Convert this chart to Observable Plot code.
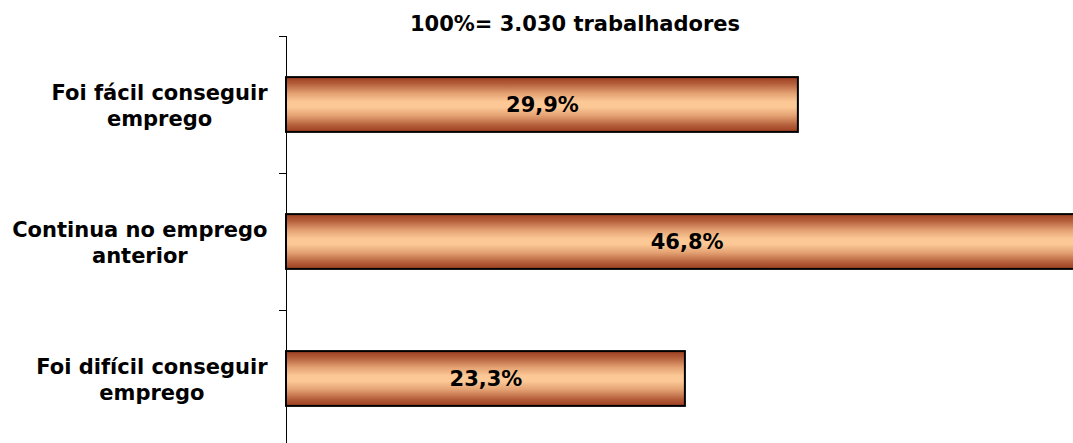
<!DOCTYPE html>
<html><head><meta charset="utf-8">
<script src="https://cdn.jsdelivr.net/npm/d3@7"></script>
<script src="https://cdn.jsdelivr.net/npm/@observablehq/plot@0.6"></script>
<style>
body{margin:0;background:#fff;overflow:hidden;}
#wrap{position:relative;width:1073px;height:443px;}
#title{position:absolute;top:14px;left:0;width:1073px;padding-left:77px;box-sizing:border-box;text-align:center;font:bold 21px "DejaVu Sans",Verdana,sans-serif;line-height:21px;color:#000;}
</style></head><body>
<div id="wrap"></div>
<script>
// ---- data ----
const categories = ["Foi fácil conseguir\nemprego", "Continua no emprego\nanterior", "Foi difícil conseguir\nemprego"];
const values = [29.9, 46.8, 23.3];
const valueLabels = ["29,9%", "46,8%", "23,3%"];
const boundaryTicks = [0, 1, 2, 3];
const titleText = "100%= 3.030 trabalhadores";

const FONT = "DejaVu Sans, Verdana, sans-serif";
const FS = 21;
const rows = categories.map((c, i) => ({i, cat: c, v: values[i], lab: valueLabels[i]}));

// measure label lines to center them under a right-aligned block
const ctx = document.createElement("canvas").getContext("2d");
ctx.font = `bold ${FS}px "DejaVu Sans"`;
const gap = 19;

const labelMarks = rows.map(r => {
  const w = d3.max(r.cat.split("\n"), s => ctx.measureText(s).width);
  return Plot.text([r], {
    x: () => 0, y: d => d.i + 0.5, text: d => d.cat,
    textAnchor: "middle", dx: -(gap + w / 2),
    fontSize: FS, fontWeight: "bold", fontFamily: FONT, fill: "#000", lineHeight: 1.24
  });
});

const chart = Plot.plot({
  width: 1073, height: 443,
  marginLeft: 286, marginRight: -69, marginTop: 36, marginBottom: -4,
  style: {overflow: "hidden", background: "#fff", fontFamily: FONT},
  x: {domain: [0, 50], axis: null},
  y: {type: "linear", domain: [0, 3], reverse: true, ticks: boundaryTicks, tickFormat: () => "", tickSize: 7, line: true, label: null},
  marks: [
    Plot.rect(rows, {x1: () => 0, x2: d => d.v, y1: d => d.i + 0.3, y2: d => d.i + 0.7, fill: "url(#barGrad)", stroke: "#000", strokeWidth: 2}),
    Plot.text(rows, {x: d => d.v / 2, y: d => d.i + 0.5, text: d => d.lab, fontSize: FS, fontWeight: "bold", fontFamily: FONT, fill: "#000"}),
    ...labelMarks
  ]
});

const defs = d3.select(chart).insert("defs", ":first-child");
const g = defs.append("linearGradient").attr("id", "barGrad").attr("x1", 0).attr("y1", 0).attr("x2", 0).attr("y2", 1);
[[0, "#9c3d20"], [0.12, "#b45e3a"], [0.3, "#e4a273"], [0.45, "#fcc896"], [0.55, "#fcc896"], [0.7, "#e4a273"], [0.88, "#b45e3a"], [1, "#9c3d20"]]
  .forEach(([o, c]) => g.append("stop").attr("offset", o).attr("stop-color", c));

const wrap = document.getElementById("wrap");
wrap.appendChild(chart);
const t = document.createElement("div");
t.id = "title"; t.textContent = titleText;
wrap.appendChild(t);
</script>
</body></html>
